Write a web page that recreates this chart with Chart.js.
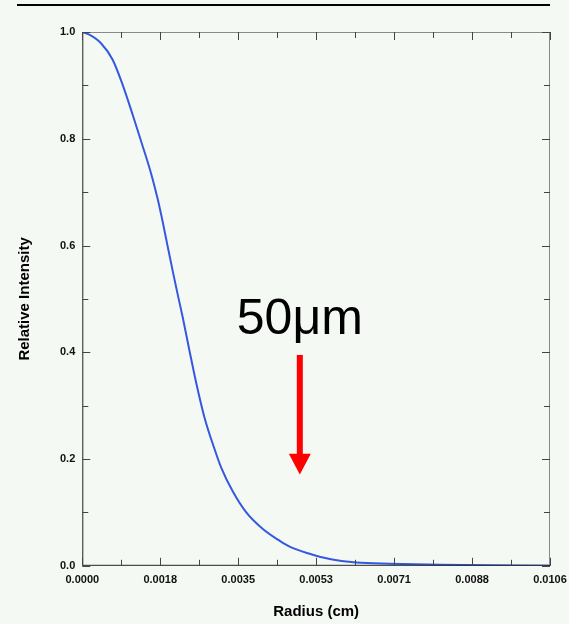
<!DOCTYPE html>
<html>
<head>
<meta charset="utf-8">
<script src="https://cdn.jsdelivr.net/npm/chart.js@4.4.1/dist/chart.umd.min.js"></script>
<style>
  html, body { margin: 0; padding: 0; background: #f5f9f4; }
  #wrap { position: relative; width: 569px; height: 624px; }
  #rule { position: absolute; left: 17px; top: 4px; width: 533px; height: 2px; background: #000; }
  canvas { position: absolute; left: 0; top: 0; }
</style>
</head>
<body>
<div id="wrap">
  <canvas id="chart" width="569" height="624"></canvas>
  <div id="rule"></div>
</div>
<script>
// radius (cm) vs relative intensity
const radius = [0, 0.000159, 0.000424, 0.000688, 0.000915, 0.001142, 0.001369, 0.001559,
    0.001709, 0.001823, 0.001936, 0.002050, 0.002163, 0.002277, 0.002429, 0.002581,
    0.002769, 0.002996, 0.003148, 0.003412, 0.003716, 0.004092, 0.004472, 0.004698,
    0.005153, 0.005607, 0.006213, 0.006968, 0.008103, 0.0106];
const intensity = [1.0, 0.995, 0.979, 0.948, 0.901, 0.845, 0.786, 0.735,
    0.687, 0.644, 0.598, 0.552, 0.508, 0.465, 0.403, 0.343,
    0.278, 0.219, 0.184, 0.139, 0.100, 0.069, 0.047, 0.036,
    0.0225, 0.0126, 0.0062, 0.0038, 0.0019, 0.0];

const xMax = 0.0106;
const xTickLabels = ['0.0000', '0.0018', '0.0035', '0.0053', '0.0071', '0.0088', '0.0106'];
const yTickLabels = ['0.0', '0.2', '0.4', '0.6', '0.8', '1.0'];

// annotation: 50 um marker
const markerText = '50\u03bcm';
const markerRadius = 0.00493;
const markerTextY = 0.435;
const arrowTopY = 0.395;
const arrowHeadY = 0.210;
const arrowTipY = 0.171;

const labelFont = { family: 'Liberation Sans', size: 11, weight: 'bold' };
const titleFont = { family: 'Liberation Sans', size: 15, weight: 'bold' };

// inward ticks on all four sides + frame + the marker
const framePlugin = {
    id: 'frame',
    afterDatasetsDraw(chart) {
        const ctx = chart.ctx;
        const a = chart.chartArea;
        const xs = chart.scales.x, ys = chart.scales.y;
        ctx.save();
        ctx.lineWidth = 1;
        // top / right frame in grey
        ctx.strokeStyle = '#8a8a8a';
        ctx.beginPath();
        ctx.moveTo(a.left, a.top + 0.5); ctx.lineTo(a.right - 0.5, a.top + 0.5);
        ctx.lineTo(a.right - 0.5, a.bottom);
        ctx.stroke();
        // left / bottom frame darker
        ctx.strokeStyle = '#222';
        ctx.beginPath();
        ctx.moveTo(a.left + 0.5, a.top); ctx.lineTo(a.left + 0.5, a.bottom - 0.5);
        ctx.lineTo(a.right, a.bottom - 0.5);
        ctx.stroke();

        ctx.strokeStyle = '#444';
        const nx = xTickLabels.length - 1;
        for (let i = 0; i <= nx * 2; i++) {
            const px = Math.round(xs.getPixelForValue(i * xMax / (nx * 2))) + 0.5;
            const len = i % 2 === 0 ? 8 : 6;
            ctx.beginPath();
            ctx.moveTo(px, a.bottom); ctx.lineTo(px, a.bottom - len);
            ctx.moveTo(px, a.top); ctx.lineTo(px, a.top + len);
            ctx.stroke();
        }
        const ny = yTickLabels.length - 1;
        for (let i = 0; i <= ny * 2; i++) {
            const py = Math.round(ys.getPixelForValue(i / (ny * 2))) + 0.5;
            const len = i % 2 === 0 ? 8 : 6;
            ctx.beginPath();
            ctx.moveTo(a.left, py); ctx.lineTo(a.left + len, py);
            ctx.moveTo(a.right, py); ctx.lineTo(a.right - len, py);
            ctx.stroke();
        }

        // 50 um label and arrow
        const mx = xs.getPixelForValue(markerRadius);
        ctx.fillStyle = '#000';
        ctx.font = '50px "Liberation Sans"';
        ctx.textAlign = 'center';
        ctx.textBaseline = 'alphabetic';
        ctx.fillText(markerText, mx, ys.getPixelForValue(markerTextY));
        ctx.fillStyle = '#ff0000';
        const yTop = ys.getPixelForValue(arrowTopY);
        const yHead = ys.getPixelForValue(arrowHeadY);
        const yTip = ys.getPixelForValue(arrowTipY);
        ctx.fillRect(mx - 3, yTop, 6, yHead - yTop + 1);
        ctx.beginPath();
        ctx.moveTo(mx - 11, yHead); ctx.lineTo(mx + 11, yHead); ctx.lineTo(mx, yTip);
        ctx.closePath();
        ctx.fill();
        ctx.restore();
    }
};

new Chart(document.getElementById('chart'), {
    type: 'line',
    data: {
        datasets: [{
            data: radius.map((r, i) => ({ x: r, y: intensity[i] })),
            borderColor: '#3558e0',
            borderWidth: 2,
            pointRadius: 0,
            cubicInterpolationMode: 'monotone',
            fill: false
        }]
    },
    options: {
        responsive: false,
        animation: false,
        layout: { padding: { top: 32, right: 19, bottom: 0, left: 0 } },
        plugins: { legend: { display: false }, tooltip: { enabled: false } },
        scales: {
            x: {
                type: 'linear',
                min: 0,
                max: xMax,
                afterBuildTicks: axis => {
                    axis.ticks = xTickLabels.map((l, i) => ({ value: i * xMax / (xTickLabels.length - 1) }));
                },
                afterFit: axis => { axis.paddingLeft = 0; axis.paddingRight = 0; },
                ticks: {
                    callback: (v, i) => xTickLabels[i],
                    font: labelFont,
                    color: '#111',
                    padding: 8,
                    maxRotation: 0,
                    autoSkip: false
                },
                grid: { display: false, drawTicks: false },
                border: { display: false },
                title: {
                    display: true,
                    text: 'Radius (cm)',
                    font: titleFont,
                    color: '#000',
                    padding: { top: 8, bottom: 3 }
                }
            },
            y: {
                min: 0,
                max: 1,
                afterBuildTicks: axis => {
                    axis.ticks = yTickLabels.map(l => ({ value: parseFloat(l) }));
                },
                ticks: {
                    callback: (v, i) => yTickLabels[i],
                    font: labelFont,
                    color: '#111',
                    padding: 7
                },
                grid: { display: false, drawTicks: false },
                border: { display: false },
                title: {
                    display: true,
                    text: 'Relative Intensity',
                    font: titleFont,
                    color: '#000',
                    padding: { top: 16, bottom: 19 }
                }
            }
        }
    },
    plugins: [framePlugin]
});
</script>
</body>
</html>
